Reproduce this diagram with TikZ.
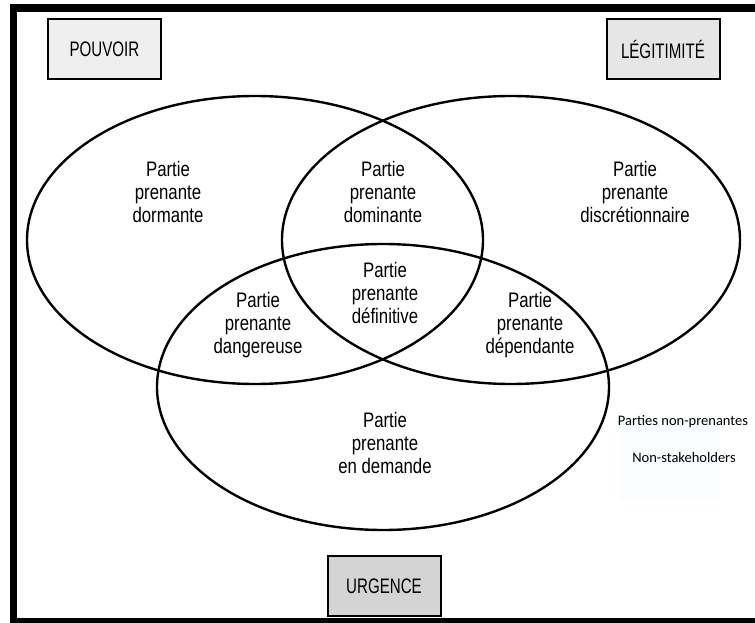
\documentclass[tikz,border=0pt]{standalone}
\usepackage{fontspec}
\newfontfamily\narrowsans{Liberation Sans}[FakeStretch=0.8]
\newfontfamily\capsans{Liberation Sans}[FakeStretch=0.72]
\newfontfamily\notefont{Carlito}
\definecolor{boxA}{HTML}{EFEFEF}
\definecolor{boxB}{HTML}{E6E6E6}
\definecolor{boxC}{HTML}{D4D4D4}
\definecolor{notebg}{HTML}{FAFDFD}
\tikzset{
  set/.style={draw=black, line width=2.4pt},
  dimbox/.style={draw=black, line width=2pt, minimum width=113pt, minimum height=60pt,
    inner sep=0pt, font=\capsans\fontsize{21}{24}\selectfont},
  zone/.style={align=center, inner sep=0pt, font=\narrowsans\fontsize{21}{23}\selectfont},
  note/.style={inner sep=0pt, font=\notefont\fontsize{14.5}{17}\selectfont}
}
\begin{document}
\begin{tikzpicture}[x=1pt,y=-1pt]
  % canvas
  \fill[white] (0,0) rectangle (755,623);
  \useasboundingbox (0,0) rectangle (755,623);
  % frame
  \fill[black] (10,4) rectangle (755,12);
  \fill[black] (10,4) rectangle (17,623);
  \fill[black] (10,618) rectangle (755,623);
  % faint note panel
  \fill[notebg] (620,420) rectangle (720,500);
  % the three attributes
  \draw[set] (255,240) ellipse [x radius=228, y radius=144];
  \draw[set] (511,240) ellipse [x radius=229, y radius=144];
  \draw[set] (383,387) ellipse [x radius=226, y radius=143];
  % attribute labels
  \node[dimbox, fill=boxA] (pouvoir) at (104.5,49) {POUVOIR};
  \node[dimbox, fill=boxB] (legit) at (663,49) {LÉGITIMITÉ};
  \node[dimbox, fill=boxC] (urgence) at (384,586) {URGENCE};
  % stakeholder classes
  \node[zone] (dormante) at (168,192) {Partie\\prenante\\dormante};
  \node[zone] (dominante) at (383,192) {Partie\\prenante\\dominante};
  \node[zone] (discret) at (635,192) {Partie\\prenante\\discrétionnaire};
  \node[zone] (definitive) at (385,293) {Partie\\prenante\\définitive};
  \node[zone] (dangereuse) at (258,325) {Partie\\prenante\\dangereuse};
  \node[zone] (dependante) at (530,325) {Partie\\prenante\\dépendante};
  \node[zone] (demande) at (385,443) {Partie\\prenante\\en demande};
  % outside all sets
  \node[note] (nonpp) at (683,422) {Parties non-prenantes};
  \node[note] (nonsh) at (684,458) {Non-stakeholders};
\end{tikzpicture}
\end{document}
